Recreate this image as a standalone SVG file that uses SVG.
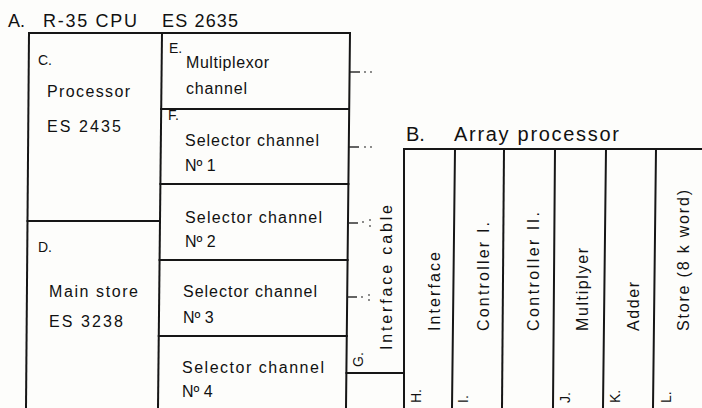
<svg xmlns="http://www.w3.org/2000/svg" width="702" height="408" viewBox="0 0 702 408">
<style>
  .ln { stroke: #161616; stroke-width: 2; fill: none; stroke-linecap: square; }
  .stub { stroke: #222; stroke-width: 1.4; }
  .dot { fill: #555; }
  text { font-family: "Liberation Sans", Arial, sans-serif; fill: #111; }
  .t { font-size: 16px; }
  .sm { font-size: 14px; }
  .ttl { font-size: 18px; }
  .big { font-size: 20px; }
</style>
<rect width="702" height="408" fill="#fdfdfb"/>

<text class="ttl" x="8" y="27">A.</text>
<text class="ttl" x="43" y="27" textLength="94" lengthAdjust="spacing">R-35  CPU</text>
<text class="ttl" x="162" y="27" textLength="76" lengthAdjust="spacing">ES 2635</text>

<g id="cpu-frame">
  <line class="ln" x1="29" y1="33" x2="350" y2="33"/>
  <line class="ln" x1="29" y1="33" x2="26" y2="408"/>
  <line class="ln" x1="350" y1="33" x2="346" y2="408"/>
  <line class="ln" x1="162" y1="33" x2="158" y2="408"/>
</g>

<g id="node-C">
  <line class="ln" x1="27.5" y1="221" x2="160" y2="221"/>
  <text class="sm" x="38" y="65">C.</text>
  <text class="t" x="47" y="97" textLength="83" lengthAdjust="spacing">Processor</text>
  <text class="t" x="47" y="132" textLength="74" lengthAdjust="spacing">ES  2435</text>
</g>

<g id="node-D">
  <text class="sm" x="38" y="252">D.</text>
  <text class="t" x="49" y="297" textLength="89" lengthAdjust="spacing">Main  store</text>
  <text class="t" x="49" y="327" textLength="74" lengthAdjust="spacing">ES  3238</text>
</g>

<g id="node-E">
  <text class="sm" x="169" y="53">E.</text>
  <text class="t" x="186" y="68" textLength="83" lengthAdjust="spacing">Multiplexor</text>
  <text class="t" x="186" y="94" textLength="61" lengthAdjust="spacing">channel</text>
  <line class="ln" x1="161" y1="109" x2="349" y2="109"/>
</g>

<g id="node-F">
  <text class="sm" x="168" y="120">F.</text>
  <text class="t" x="185" y="146" textLength="134" lengthAdjust="spacing">Selector  channel</text>
  <text class="t" x="185" y="171">Nº 1</text>
  <line class="ln" x1="160.4" y1="184" x2="348.4" y2="184"/>
</g>

<g id="node-sel2">
  <text class="t" x="185" y="223" textLength="137" lengthAdjust="spacing">Selector  channel</text>
  <text class="t" x="185" y="247">Nº 2</text>
  <line class="ln" x1="159.6" y1="260" x2="347.6" y2="260"/>
</g>

<g id="node-sel3">
  <text class="t" x="183" y="297" textLength="134" lengthAdjust="spacing">Selector  channel</text>
  <text class="t" x="183" y="323">Nº 3</text>
  <line class="ln" x1="158.8" y1="336" x2="346.8" y2="336"/>
</g>

<g id="node-sel4">
  <text class="t" x="182" y="373" textLength="142" lengthAdjust="spacing">Selector  channel</text>
  <text class="t" x="182" y="397">Nº 4</text>
</g>

<g id="node-G">
  <line class="ln" x1="346.5" y1="373" x2="404" y2="373"/>
  <text class="sm" transform="translate(363,367) rotate(-90)">G.</text>
  <text class="t" transform="translate(392,350) rotate(-90)" textLength="145" lengthAdjust="spacing">Interface  cable</text>
</g>

<g id="connectors">
  <line class="stub" x1="350" y1="72" x2="360" y2="72"/>
  <circle class="dot" cx="365" cy="72" r="0.9"/>
  <circle class="dot" cx="371" cy="72" r="0.9"/>
  <line class="stub" x1="349" y1="147" x2="359" y2="147"/>
  <circle class="dot" cx="365" cy="147" r="0.9"/>
  <circle class="dot" cx="371" cy="147" r="0.9"/>
  <line class="stub" x1="348" y1="223" x2="358" y2="223"/>
  <circle class="dot" cx="363" cy="222" r="0.9"/>
  <circle class="dot" cx="370" cy="220" r="0.9"/>
  <circle class="dot" cx="370" cy="226" r="0.9"/>
  <line class="stub" x1="347" y1="297" x2="357" y2="297"/>
  <circle class="dot" cx="362" cy="297" r="0.9"/>
  <circle class="dot" cx="369" cy="295" r="0.9"/>
  <circle class="dot" cx="369" cy="300" r="0.9"/>
</g>

<g id="node-B">
  <text class="big" x="406" y="141">B.</text>
  <text class="big" x="454" y="141" textLength="165" lengthAdjust="spacing">Array  processor</text>
  <line class="ln" x1="404" y1="149" x2="702" y2="149"/>
  <line class="ln" x1="404" y1="149" x2="404" y2="408"/>
</g>

<g id="node-H">
  <line class="ln" x1="455" y1="149" x2="452" y2="408"/>
  <text class="t" transform="translate(440,331) rotate(-90)" textLength="79" lengthAdjust="spacing">Interface</text>
  <text class="sm" transform="translate(421,403) rotate(-90)">H.</text>
</g>

<g id="node-I">
  <line class="ln" x1="504" y1="149" x2="502" y2="408"/>
  <text class="t" transform="translate(489,331) rotate(-90)" textLength="109" lengthAdjust="spacing">Controller  I.</text>
  <text class="sm" transform="translate(468,403) rotate(-90)">I.</text>
</g>

<g id="node-II">
  <line class="ln" x1="555" y1="149" x2="553" y2="408"/>
  <text class="t" transform="translate(539,331) rotate(-90)" textLength="119" lengthAdjust="spacing">Controller  II.</text>
</g>

<g id="node-J">
  <line class="ln" x1="606" y1="149" x2="603" y2="408"/>
  <text class="t" transform="translate(588,331) rotate(-90)" textLength="83" lengthAdjust="spacing">Multiplyer</text>
  <text class="sm" transform="translate(570,403) rotate(-90)">J.</text>
</g>

<g id="node-K">
  <line class="ln" x1="656" y1="149" x2="653" y2="408"/>
  <text class="t" transform="translate(639,331) rotate(-90)" textLength="49" lengthAdjust="spacing">Adder</text>
  <text class="sm" transform="translate(620,403) rotate(-90)">K.</text>
</g>

<g id="node-L">
  <text class="t" transform="translate(689,331) rotate(-90)" textLength="141" lengthAdjust="spacing">Store  (8 k  word)</text>
  <text class="sm" transform="translate(671,403) rotate(-90)">L.</text>
</g>
</svg>
